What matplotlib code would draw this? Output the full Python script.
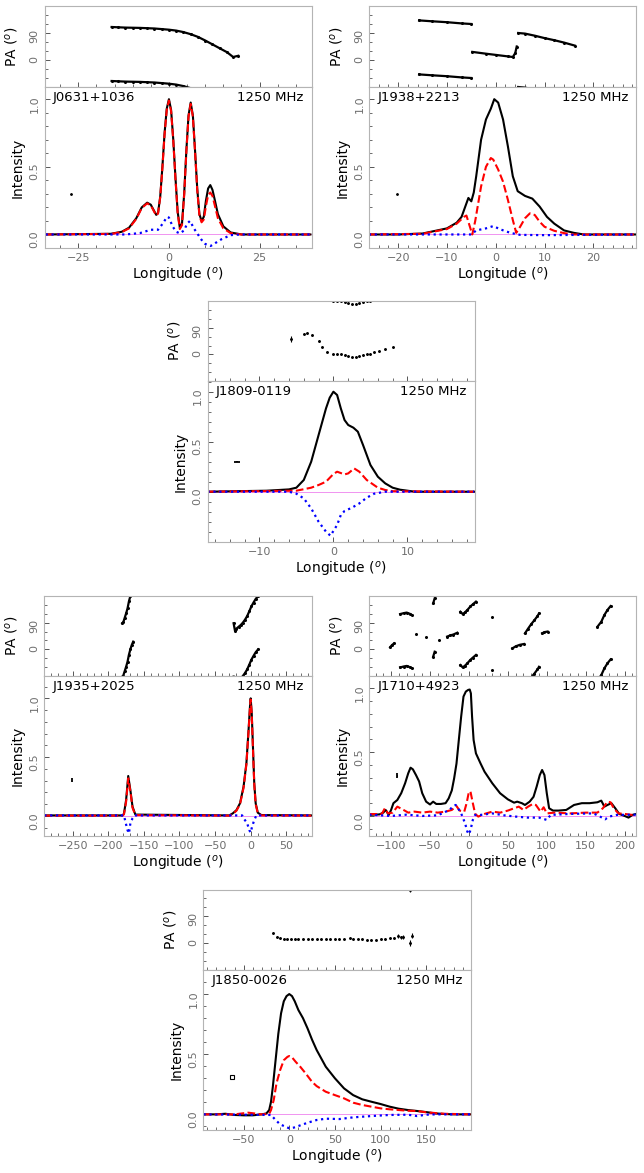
import numpy as np
import matplotlib
matplotlib.use("Agg")
import matplotlib.pyplot as plt
from matplotlib.ticker import MultipleLocator, FixedLocator

nan = np.nan

# ---------------- J0631+1036 ----------------
j0631_i_lon = [-34, -16, -13, -11, -9, -7.5, -6, -5, -4, -3.5,
               -3, -2.4, -1.8, -1.2, -0.6, 0, 0.6, 1.2, 1.8, 2.4,
               3.0, 3.6, 4.2, 4.8, 5.4, 6.0, 6.6, 7.2, 7.8, 8.4,
               9.0, 9.6, 10.2, 10.8, 11.4, 12.0, 12.6, 13.5, 15, 17,
               20, 39]
j0631_i = [0, 0.005, 0.02, 0.05, 0.12, 0.2, 0.235, 0.22, 0.17, 0.145,
           0.16, 0.28, 0.5, 0.75, 0.93, 1.0, 0.92, 0.7, 0.42, 0.17,
           0.05, 0.08, 0.3, 0.62, 0.88, 0.975, 0.88, 0.62, 0.34, 0.15,
           0.1, 0.13, 0.25, 0.34, 0.365, 0.33, 0.26, 0.15, 0.06, 0.015,
           0, 0]
j0631_l = [0, 0.004, 0.018, 0.045, 0.115, 0.195, 0.23, 0.215, 0.165, 0.14,
           0.155, 0.275, 0.49, 0.74, 0.92, 0.99, 0.91, 0.69, 0.41, 0.16,
           0.04, 0.07, 0.29, 0.61, 0.87, 0.965, 0.87, 0.61, 0.33, 0.14,
           0.09, 0.11, 0.21, 0.29, 0.31, 0.285, 0.22, 0.12, 0.045, 0.01,
           0, 0]
j0631_v_lon = [-34, -12, -8, -5, -3, -2, -0.5, 0, 1, 2, 3, 4.2, 5, 5.8, 7, 8, 9, 10, 11.5, 13, 14.5, 17, 20, 39]
j0631_v = [0, 0, 0.01, 0.035, 0.035, 0.07, 0.13, 0.125, 0.06, 0.02, 0.008, 0.03, 0.08, 0.1, 0.04, 0.0, -0.04, -0.07, -0.085, -0.06, -0.035, -0.005, 0, 0]
j0631_pa_lon = [-15.8, -14, -12, -10, -8, -6, -4, -2, 0, 2, 4, 6, 8, 10, 12, 14, 16, 17.7, 19.1]
j0631_pa = [110, 109, 108, 107.5, 107, 106, 105, 103, 101, 98, 93, 86, 77, 65, 52, 39, 26, 10, 14]

# ---------------- J1938+2213 ----------------
j1938_i_lon = [-26, -20, -15, -10, -8, -7, -6, -5.6, -5, -4.5, -4, -3, -2, -1, -0.3, 0.5, 1.5, 2.5, 3.5, 4.5, 6, 7.5, 9, 10.5, 12, 14, 16, 18, 29]
j1938_i = [0, 0, 0.007, 0.045, 0.087, 0.13, 0.23, 0.27, 0.245, 0.31, 0.43, 0.70, 0.85, 0.93, 1.0, 0.975, 0.85, 0.65, 0.43, 0.32, 0.285, 0.265, 0.206, 0.13, 0.08, 0.03, 0.012, 0, 0]
j1938_l_lon = [-26, -15, -10, -8, -6.5, -6, -5.4, -4.8, -4.2, -3, -2, -1, -0.5, 0.5, 1.5, 2.5, 3.5, 4.2, 5, 6, 7, 8, 9, 10, 12, 14, 16, 29]
j1938_l = [0, 0.005, 0.04, 0.08, 0.13, 0.14, 0.07, 0.0, 0.1, 0.355, 0.5, 0.565, 0.553, 0.48, 0.39, 0.255, 0.107, 0.012, 0.057, 0.12, 0.156, 0.144, 0.094, 0.057, 0.027, 0.01, 0, 0]
j1938_v_lon = [-26, -8, -5, -4, -2, -0.5, 1, 3, 5, 10, 29]
j1938_v = [0, 0, 0.0, 0.03, 0.045, 0.062, 0.037, 0.012, -0.003, -0.005, 0]
j1938_pa_lon = [-15.7, -13, -10, -7, -5, nan, -4.8, -2, 0, 2.5, 3.5, 4.0, 4.3, nan, 4.6, 6, 8, 10, 12, 14, 16.2]
j1938_pa = [132, 129, 126, 122, 120, nan, 27, 21, 17, 12, 10, 23, 45, nan, 90, 88, 81, 73, 66, 58, 48]

# ---------------- J1809-0119 ----------------
j1809_i_lon = [-17, -9, -6, -5, -4, -3, -2, -1, -0.5, 0, 0.5, 1, 1.5, 2, 2.7, 3.3, 4, 5, 6, 7, 8, 9, 10, 11, 19]
j1809_i = [0, 0.01, 0.023, 0.04, 0.117, 0.30, 0.567, 0.833, 0.94, 1.0, 0.967, 0.833, 0.717, 0.667, 0.64, 0.60, 0.467, 0.267, 0.15, 0.083, 0.04, 0.02, 0.01, 0, 0]
j1809_l_lon = [-17, -5, -3, -2, -1, 0, 0.5, 1.5, 2, 2.8, 3.5, 4.5, 6, 7, 8, 19]
j1809_l = [0, 0.01, 0.04, 0.067, 0.10, 0.177, 0.20, 0.173, 0.183, 0.233, 0.20, 0.117, 0.04, 0.017, 0.005, 0]
j1809_v_lon = [-17, -6, -5, -4, -3, -2, -1, -0.4, 0.5, 1, 1.5, 2.5, 3.5, 4.5, 5.5, 7, 19]
j1809_v = [0, 0, -0.02, -0.067, -0.167, -0.30, -0.40, -0.44, -0.333, -0.233, -0.193, -0.16, -0.117, -0.06, -0.02, 0, 0]
j1809_pa_lon = [-5.7, -4, -3.5, -2.9, -2, -1.5, -0.8, 0, 0.5, 1, 1.5, 2, 2.5, 3, 3.5, 4, 4.5, 5, 5.5, 6.2, 7, 8]
j1809_pa = [54, 71, 73, 66, 46, 27, 10, 1, 0, 0, -2, -5.5, -10, -8, -5.5, -2, 1, 3, 7, 11, 17, 24]
j1809_pa_err = [10, 3, 2, 2, 2, 2, 2, 2, 2, 2, 2, 2, 2, 2, 2, 2, 2, 2, 2, 2, 2, 3]

# ---------------- J1935+2025 ----------------
j1935_i_lon = [-290, -180, -178, -175, -172, -169, -166, -162, -30, -25, -20, -15, -10, -6, -3, -1, 0, 1.5, 3, 5, 7, 10, 15, 86]
j1935_i = [0.005, 0.005, 0.02, 0.136, 0.34, 0.22, 0.08, 0.012, 0.005, 0.023, 0.05, 0.108, 0.25, 0.45, 0.73, 0.93, 1.0, 0.87, 0.62, 0.28, 0.108, 0.028, 0.008, 0.005]
j1935_l = [0.003, 0.003, 0.015, 0.12, 0.32, 0.21, 0.07, 0.008, 0.003, 0.018, 0.045, 0.1, 0.24, 0.44, 0.72, 0.92, 0.99, 0.86, 0.6, 0.27, 0.1, 0.022, 0.005, 0.003]
j1935_v_lon = [-290, -178, -176, -173, -171, -169, -166, -163, -12, -10, -5, -2, 0, 2, 5, 8, 86]
j1935_v = [0.005, 0.005, -0.048, -0.12, -0.147, -0.062, -0.02, 0.005, 0.005, -0.02, -0.06, -0.12, -0.14, -0.09, -0.034, 0.005, 0.005]
j1935_pa_lon = [-180.5, -179, -177, -175, -173, -171, -169, -167, -165, nan, -24, -22, -20, -17, -14, -11, -8, -5, -2, 1, 4, 7, 10.5]
j1935_pa = [-92, -89, -74, -59, -42, -18, 0, 15, 26, nan, 88, 62, 70, 76, 82, 90, 100, 112, 128, 145, 158, 170, 180]

# ---------------- J1710+4923 ----------------
j1710_i_lon = [-128, -125, -115, -110, -107, -103, -100, -97, -92, -87,
               -82, -78, -75, -72, -68, -64, -60, -55, -50, -46,
               -42, -36, -30, -26, -22, -19, -16, -13, -10, -7,
               -4, -1, 1, 2.5, 4, 6, 9, 15, 20, 30,
               40, 50, 58, 62, 68, 72, 78, 83, 87, 91,
               94, 97, 100, 103, 108, 115, 125, 135, 145, 155,
               165, 170, 174, 178, 183, 188, 193, 200, 205, 210, 215]
j1710_i = [0.01, 0.01, 0.012, 0.026, 0.047, 0.008, 0.047, 0.1, 0.125, 0.178,
           0.256, 0.334, 0.378, 0.365, 0.32, 0.27, 0.178, 0.112, 0.09, 0.112,
           0.094, 0.094, 0.1, 0.138, 0.2, 0.295, 0.41, 0.595, 0.778, 0.935,
           0.974, 0.987, 0.99, 0.96, 0.78, 0.595, 0.49, 0.41, 0.347, 0.256,
           0.178, 0.13, 0.104, 0.112, 0.1, 0.086, 0.112, 0.15, 0.23, 0.32,
           0.36, 0.32, 0.178, 0.06, 0.042, 0.042, 0.047, 0.086, 0.1, 0.1,
           0.107, 0.12, 0.073, 0.086, 0.1, 0.06, 0.016, 0.0, -0.013, 0.008, 0.016]
j1710_l_lon = [-128, -112, -108, -104, -98, -92, -88, -84, -78, -70,
               -60, -50, -40, -30, -22, -16, -12, -6, -3, 0,
               2, 5, 8, 12, 20, 30, 40, 50, 58, 64,
               70, 76, 82, 86, 92, 96, 100, 110, 130, 150,
               165, 172, 178, 182, 186, 192, 200, 210, 215]
j1710_l = [0.015, 0.015, 0.06, 0.02, 0.026, 0.073, 0.06, 0.047, 0.026, 0.034,
           0.026, 0.034, 0.026, 0.034, 0.047, 0.078, 0.042, 0.034, 0.1, 0.19,
           0.19, 0.1, 0.016, -0.005, 0.016, 0.034, 0.026, 0.042, 0.06, 0.073,
           0.047, 0.073, 0.094, 0.086, 0.034, 0.068, 0.02, 0.026, 0.02, 0.026,
           0.026, 0.06, 0.112, 0.107, 0.06, 0.02, 0.016, 0.008, 0.01]
j1710_v_lon = [-128, -100, -80, -60, -40, -25, -20, -17, -14, -10,
               -5, -2, 0, 2, 5, 8, 15, 30, 45, 60,
               75, 90, 100, 105, 130, 160, 170, 175, 180, 190, 215]
j1710_v = [0.01, 0.0, 0.01, 0.0, 0.005, 0.047, 0.078, 0.086, 0.06, 0.02,
           -0.057, -0.123, -0.143, -0.11, -0.031, 0.008, 0.008, 0.02, 0.005, -0.005,
           -0.013, -0.013, -0.031, 0.008, 0.016, 0.02, -0.01, -0.026, -0.005, 0.008, 0.01]
j1710_pa_lon = [-101.3, -99, -96.2, nan, -88.4, -84, -80, -76, -73.4, nan,
                -67.8, nan, -54.9, nan, -46, -44, nan, -39, nan, -28,
                -24, -20, -15, nan, -11, -8, -5, -2, 2, 5,
                9, nan, 30, nan, 55.6, 60, 65, 70.6, nan, 72,
                76, 80, 84, 88, 90, nan, 94, 97, 101, nan,
                165, 170, 174, 178, 182]
j1710_pa = [7, 14, 20, nan, 119, 122, 124, 120, 116, nan,
            52, nan, 43, nan, -25, -8, nan, 31, nan, 43,
            47, 50, 56, nan, 127, 119, 125, 133, 145, 152,
            161, nan, 110, nan, 3, 10, 15, 18, nan, 54,
            70, 85, 98, 112, 121, nan, 54, 58, 60, nan,
            76, 93, 116, 133, 146]

# ---------------- J1850-0026 ----------------
j1850_i_lon = [-94, -80, -70, -60, -50, -40, -30, -25, -22, -20, -18, -15, -12, -9, -6, -3, 0, 3, 6, 10,
               15, 20, 25, 30, 40, 50, 60, 70, 80, 90, 100, 110, 120, 130, 140, 150, 160, 170, 180, 199]
j1850_i = [0.0, 0.0, 0.005, -0.005, -0.008, -0.008, 0.0, 0.008, 0.036, 0.105, 0.23, 0.45, 0.67, 0.84, 0.94, 0.983, 1.0, 0.983, 0.94, 0.867,
           0.80, 0.715, 0.62, 0.535, 0.396, 0.30, 0.216, 0.16, 0.125, 0.105, 0.086, 0.064, 0.047, 0.036, 0.028, 0.019, 0.008, 0.003, 0.0, 0.0]
j1850_l_lon = [-94, -60, -45, -30, -22, -20, -17, -14, -10, -6, -2, 0, 3, 7, 12, 18, 25, 30, 40, 50,
               60, 70, 80, 90, 100, 110, 120, 130, 140, 150, 160, 170, 180, 199]
j1850_l = [0.0, 0.0, 0.014, 0.0, 0.005, 0.036, 0.12, 0.258, 0.368, 0.45, 0.478, 0.485, 0.474, 0.437, 0.396, 0.34, 0.27, 0.235, 0.188, 0.16,
           0.133, 0.097, 0.078, 0.064, 0.05, 0.042, 0.036, 0.03, 0.028, 0.017, 0.011, 0.005, 0.003, 0.0]
j1850_v_lon = [-94, -20, -15, -10, -5, 0, 5, 10, 20, 30, 40, 55, 70, 90, 110, 130, 140, 150, 160, 199]
j1850_v = [0, -0.005, -0.047, -0.083, -0.10, -0.116, -0.11, -0.097, -0.07, -0.047, -0.036, -0.039, -0.025, -0.014, -0.005, -0.003, -0.014, -0.003, 0, 0]
j1850_pa_lon = [-17.5, -13.9, -10.2, -6, -2, 2, 6, 10, 15, 20, 25, 30, 35, 40, 45, 50, 55, 60, 66, 70,
                75, 80, 85, 90, 95, 100, 105, 110, 115, 119, 122, 125, 132, 135]
j1850_pa = [34, 22, 17, 14, 13.5, 13.5, 13.5, 13.5, 13, 13, 13.5, 13.5, 13, 13, 13, 13, 13.5, 14, 17, 15,
            14, 13, 12, 11, 12, 13.5, 14, 17, 18, 25, 20, 20, 0, 25]
j1850_pa_err = [2, 2, 1.5, 1.5, 1.5, 1.5, 1.5, 1.5, 1.5, 1.5, 1.5, 1.5, 1.5, 1.5, 1.5, 1.5, 1.5, 1.5, 2, 1.5,
                1.5, 1.5, 2, 2, 2, 3, 3, 3, 4, 6, 5, 6, 10, 8]

FIG_W, FIG_H = 644, 1173
SPINE = "#b4b4b4"
TICKLAB = "#6e6e6e"


def rect(left, top, width, height):
    # pixel box -> figure fraction
    return [left / FIG_W, 1 - (top + height) / FIG_H, width / FIG_W, height / FIG_H]


def style(ax, xmajor, xminor):
    for sp in ax.spines.values():
        sp.set_color(SPINE)
    ax.tick_params(which="both", direction="in", colors="#555555", labelcolor=TICKLAB,
                   labelsize=8, top=False, right=False)
    ax.tick_params(which="major", length=3.5, width=0.7)
    ax.tick_params(which="minor", length=2, width=0.6)
    ax.tick_params(axis="y", labelrotation=90)
    ax.xaxis.set_major_locator(MultipleLocator(xmajor))
    ax.xaxis.set_minor_locator(MultipleLocator(xminor))


def draw_pulsar(left, top, width, pa_h, i_h, name, xlim, ylim, xmajor, xminor,
                i_lon, i_val, l_lon, l_val, v_lon, v_val,
                pa_lon, pa_val, pa_err=None, res=None):
    ax_pa = fig.add_axes(rect(left, top, width, pa_h))
    ax_i = fig.add_axes(rect(left, top + pa_h, width, i_h))

    # position angle, with the +-180 deg copies
    lon = np.array(pa_lon, dtype=float)
    pa = np.array(pa_val, dtype=float)
    for k in (-180, 0, 180):
        if pa_err is None:
            ax_pa.plot(lon, pa + k, "-", color="k", lw=1.6, marker="o", ms=1.2)
        else:
            ax_pa.errorbar(lon, pa + k, yerr=pa_err, fmt="o", ms=1.1, color="k",
                           ecolor="k", elinewidth=0.8, capsize=0)
    ax_pa.set_xlim(xlim)
    ax_pa.set_ylim(-90, 180)
    style(ax_pa, xmajor, xminor)
    ax_pa.yaxis.set_major_locator(FixedLocator([0, 90]))
    ax_pa.yaxis.set_minor_locator(MultipleLocator(30))
    ax_pa.tick_params(labelbottom=False)
    ax_pa.set_ylabel(r"PA ($^o$)", fontsize=10)

    # total, linear and circular intensity
    ax_i.axhline(0, color="violet", lw=0.6, zorder=1)
    ax_i.plot(i_lon, i_val, "-", color="k", lw=1.5)
    ax_i.plot(l_lon, l_val, "--", color="red", lw=1.5)
    ax_i.plot(v_lon, v_val, ":", color="blue", lw=1.6)
    if res is not None:
        rx, ry, rxe, rye, mk, mfc, ms = res
        ax_i.errorbar([rx], [ry], xerr=rxe, yerr=rye, fmt=mk, ms=ms, color="k",
                      mfc=mfc, mew=0.8, elinewidth=1.3, capsize=0)
    ax_i.set_xlim(xlim)
    ax_i.set_ylim(ylim)
    style(ax_i, xmajor, xminor)
    ax_i.yaxis.set_major_locator(FixedLocator([0, 0.5, 1.0]))
    ax_i.yaxis.set_minor_locator(MultipleLocator(0.1))
    ax_i.yaxis.set_major_formatter(plt.FormatStrFormatter("%.1f"))
    ax_i.set_ylabel("Intensity", fontsize=10)
    ax_i.set_xlabel(r"Longitude ($^o$)", fontsize=10, labelpad=2)
    ax_i.text(0.03, 0.975, name, transform=ax_i.transAxes, ha="left", va="top", fontsize=9.5)
    ax_i.text(0.97, 0.975, "1250 MHz", transform=ax_i.transAxes, ha="right", va="top", fontsize=9.5)
    ax_pa.yaxis.set_label_coords(-0.09, 0.5)
    ax_i.yaxis.set_label_coords(-0.075, 0.5)


fig = plt.figure(figsize=(FIG_W / 100, FIG_H / 100), dpi=100)

draw_pulsar(44.5, 6, 267, 81, 161, "J0631+1036", (-34.3, 39.3), (-0.10, 1.09), 25, 5,
            j0631_i_lon, j0631_i, j0631_i_lon, j0631_l, j0631_v_lon, j0631_v,
            j0631_pa_lon, j0631_pa, res=(-27, 0.30, None, None, "o", "k", 1.2))
draw_pulsar(369.3, 6, 267, 81, 161, "J1938+2213", (-25.9, 28.8), (-0.10, 1.09), 10, 2,
            j1938_i_lon, j1938_i, j1938_l_lon, j1938_l, j1938_v_lon, j1938_v,
            j1938_pa_lon, j1938_pa, res=(-20.2, 0.30, None, None, "o", "k", 1.2))
draw_pulsar(207.5, 301.5, 267, 79.5, 161, "J1809-0119", (-17.0, 19.05), (-0.503, 1.107), 10, 2,
            j1809_i_lon, j1809_i, j1809_l_lon, j1809_l, j1809_v_lon, j1809_v,
            j1809_pa_lon, j1809_pa, pa_err=j1809_pa_err, res=(-13.0, 0.30, 0.42, 0.008, "none", "k", 2))
draw_pulsar(44.3, 596, 267.4, 80, 160, "J1935+2025", (-289.9, 85.7), (-0.17, 1.19), 50, 10,
            j1935_i_lon, j1935_i, j1935_i_lon, j1935_l, j1935_v_lon, j1935_v,
            j1935_pa_lon, j1935_pa, res=(-251, 0.306, 0.5, 0.02, "none", "k", 2))
draw_pulsar(369.3, 596, 267, 80, 160, "J1710+4923", (-128, 215), (-0.157, 1.096), 50, 10,
            j1710_i_lon, j1710_i, j1710_l_lon, j1710_l, j1710_v_lon, j1710_v,
            j1710_pa_lon, j1710_pa, res=(-92, 0.316, 0.5, 0.022, "none", "k", 2))
draw_pulsar(203.3, 889.5, 267.4, 80.5, 160, "J1850-0026", (-94.2, 198.8), (-0.13, 1.2), 50, 10,
            j1850_i_lon, j1850_i, j1850_l_lon, j1850_l, j1850_v_lon, j1850_v,
            j1850_pa_lon, j1850_pa, pa_err=j1850_pa_err, res=(-63.2, 0.307, None, None, "s", "none", 2.2))

fig.savefig("out.png", dpi=100)
